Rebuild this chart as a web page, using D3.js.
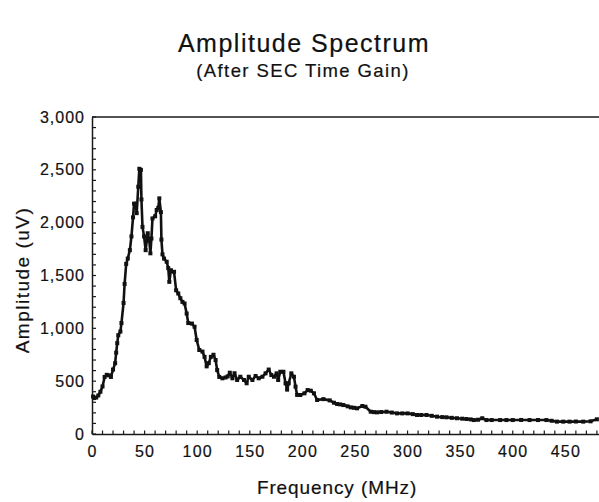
<!DOCTYPE html>
<html>
<head>
<meta charset="utf-8">
<script src="https://cdn.jsdelivr.net/npm/d3@7"></script>
<style>
  html, body { margin: 0; padding: 0; background: #fff; }
  svg { display: block; }
  text { font-family: "Liberation Sans", Arial, Helvetica, sans-serif; fill: #111; stroke: #111; stroke-width: 0.2px; }
</style>
</head>
<body>
<svg id="chart" width="599" height="502"></svg>
<script>
// ---- Data ----
const frequencyMHz = [
  1, 2, 4, 6, 8, 10, 12, 14, 16, 18, 20, 22, 23, 24, 25, 27, 28, 30, 31, 32.5,
  34, 36, 37.5, 39, 40, 41.5, 42.5, 44, 45, 46.5, 47, 48, 49.5, 51, 53, 54.5, 55.5, 56.5, 57.5, 60,
  61.5, 63, 64, 65.5, 66, 67, 68.5, 71, 72.5, 73.5, 75, 78, 80, 82, 84, 86, 88, 90, 91.5, 95,
  97.5, 99.5, 102, 105, 107, 109, 111, 113, 115.5, 117.5, 119, 121, 124, 127, 129, 131, 133.5, 135.5, 138, 141,
  144.5, 147, 149, 152.5, 155.5, 158.5, 162, 165, 168, 170.5, 173, 175.5, 177, 179, 182, 184, 185.5, 187, 189.5, 192,
  193.5, 195, 198, 202, 205, 208, 211, 214, 220, 226, 230, 233, 236, 239, 243, 246, 249, 252, 257, 260,
  265, 268, 271, 275, 280, 285, 290, 295, 300, 305, 309, 313, 318, 323, 328, 333, 337, 342, 347, 352,
  356, 360, 363, 367, 371, 375, 380, 388, 394, 400, 408, 416, 424, 432, 437, 442, 448, 454, 460, 467,
  474, 480
];
const amplitudeUV = [
  355, 340, 345, 365, 400, 450, 540, 560, 555, 540, 610, 670, 770, 860, 935, 970, 1050, 1240, 1420, 1610,
  1660, 1740, 1870, 2050, 2180, 2180, 2090, 2340, 2510, 2500, 2220, 1960, 1870, 1740, 1900, 1830, 1710, 1850, 2040, 2060,
  2120, 2140, 2230, 2100, 1840, 1700, 1660, 1630, 1570, 1440, 1550, 1535, 1360, 1330, 1285, 1250, 1235, 1140, 1050, 1045,
  1015, 890, 795, 780, 730, 640, 670, 730, 750, 700, 605, 540, 527, 535, 545, 580, 527, 575, 511, 542,
  511, 480, 542, 511, 549, 527, 542, 574, 610, 558, 542, 574, 511, 589, 589, 480, 420, 480, 574, 542,
  448, 370, 369, 385, 416, 410, 385, 322, 330, 318, 296, 284, 280, 274, 262, 252, 248, 243, 265, 258,
  211, 207, 205, 208, 211, 203, 195, 195, 195, 188, 180, 180, 180, 172, 164, 160, 158, 153, 149, 145,
  142, 138, 132, 135, 149, 132, 132, 132, 132, 132, 133, 132, 132, 132, 125, 117, 117, 117, 118, 117,
  120, 139
];
const xTickLabels = [0, 50, 100, 150, 200, 250, 300, 350, 400, 450];
const yTickLabels = [0, 500, 1000, 1500, 2000, 2500, 3000];
const titleText = "Amplitude Spectrum";
const subtitleText = "(After SEC Time Gain)";
const xAxisTitle = "Frequency (MHz)";
const yAxisTitle = "Amplitude (uV)";

// ---- Layout ----
const svg = d3.select("#chart");
const plotLeft = 92, plotTop = 117, plotBottom = 434, plotRight = 599;

const x = d3.scaleLinear().domain([0, 482]).range([plotLeft, plotRight]);
const y = d3.scaleLinear().domain([0, 3000]).range([plotBottom, plotTop]);

const ink = "#1a1a1a";

// Titles
svg.append("text").attr("x", 304).attr("y", 52).attr("text-anchor", "middle")
  .style("font-size", "25px").style("letter-spacing", "1.5px").text(titleText);
svg.append("text").attr("x", 303).attr("y", 77).attr("text-anchor", "middle")
  .style("font-size", "18.5px").style("letter-spacing", "1.4px").text(subtitleText);

// Top frame line
svg.append("line").attr("x1", plotLeft).attr("x2", plotRight).attr("y1", plotTop).attr("y2", plotTop)
  .attr("stroke", ink).attr("stroke-width", 1.5);

// X axis
const xAxis = d3.axisBottom(x).tickValues(xTickLabels).tickSize(0).tickPadding(12)
  .tickFormat(d3.format("d"));
const gx = svg.append("g").attr("transform", `translate(0,${plotBottom})`).call(xAxis);
gx.select(".domain").attr("stroke", ink).attr("stroke-width", 1.5);
gx.selectAll("text").style("font-size", "16px").style("letter-spacing", "1.2px")
  .style("font-family", "'Liberation Sans', Arial, sans-serif").attr("fill", ink);
// x minor ticks (every 10 MHz, pointing up)
const xMinor = d3.range(0, 481, 10);
svg.append("g").selectAll("line").data(xMinor).join("line")
  .attr("x1", d => x(d)).attr("x2", d => x(d))
  .attr("y1", plotBottom).attr("y2", plotBottom - 3.5)
  .attr("stroke", ink).attr("stroke-width", 1.2);

// Y axis
const yAxis = d3.axisLeft(y).tickValues(yTickLabels).tickSize(0).tickPadding(7)
  .tickFormat(d3.format(","));
const gy = svg.append("g").attr("transform", `translate(${plotLeft},0)`).call(yAxis);
gy.select(".domain").attr("stroke", ink).attr("stroke-width", 1.5);
gy.selectAll("text").style("font-size", "16px").style("letter-spacing", "1px")
  .style("font-family", "'Liberation Sans', Arial, sans-serif").attr("fill", ink);
// y minor ticks (every 100, pointing right)
const yMinor = d3.range(0, 3001, 100);
svg.append("g").selectAll("line").data(yMinor).join("line")
  .attr("x1", plotLeft).attr("x2", plotLeft + 4)
  .attr("y1", d => y(d)).attr("y2", d => y(d))
  .attr("stroke", ink).attr("stroke-width", 1.2);

// Axis titles
svg.append("text").attr("x", 337).attr("y", 494).attr("text-anchor", "middle")
  .style("font-size", "19px").style("letter-spacing", "0.9px").text(xAxisTitle);
svg.append("text").attr("transform", `translate(29,${280}) rotate(-90)`).attr("text-anchor", "middle")
  .style("font-size", "19px").style("letter-spacing", "1.5px").text(yAxisTitle);

// Data line + square markers
const data = frequencyMHz.map((f, i) => ({ f, a: amplitudeUV[i] }));
const line = d3.line().x(d => x(d.f)).y(d => y(d.a)).curve(d3.curveLinear);
svg.append("path").datum(data).attr("d", line)
  .attr("fill", "none").attr("stroke", "#111").attr("stroke-width", 2.6)
  .attr("stroke-linejoin", "round");
const ms = 4;
svg.append("g").selectAll("rect").data(data).join("rect")
  .attr("x", d => x(d.f) - ms / 2).attr("y", d => y(d.a) - ms / 2)
  .attr("width", ms).attr("height", ms).attr("fill", "#111");
</script>
</body>
</html>
